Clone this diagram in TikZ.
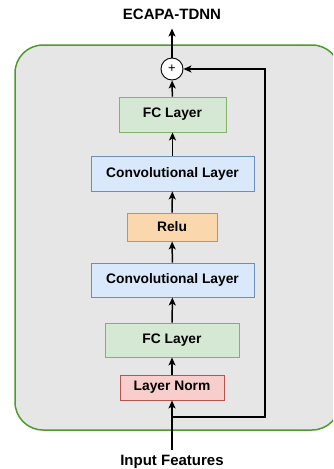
\documentclass[tikz,border=0pt]{standalone}
\usepackage{fontspec}
\setmainfont{Liberation Sans}
\usetikzlibrary{arrows.meta}
\definecolor{gfill}{HTML}{D5E8D4}\definecolor{gdraw}{HTML}{82B366}
\definecolor{bfill}{HTML}{DAE8FC}\definecolor{bdraw}{HTML}{6C8EBF}
\definecolor{ofill}{HTML}{FAD7AC}\definecolor{odraw}{HTML}{D79B00}
\definecolor{rfill}{HTML}{F8CECC}\definecolor{rdraw}{HTML}{B85450}
\definecolor{outfill}{HTML}{E6E6E6}\definecolor{outdraw}{HTML}{4E9A2A}
\begin{document}
\begin{tikzpicture}[x=1pt,y=-1pt,
  box/.style={draw, line width=0.9pt, inner sep=0pt, font=\fontsize{13.8}{16}\selectfont\bfseries},
  arr/.style={-{Stealth[length=8pt,width=7pt,inset=2pt]}, line width=1.5pt},
  lbl/.style={inner sep=0pt, font=\fontsize{15}{18}\selectfont\bfseries}]
\useasboundingbox (0,0) rectangle (333,469);
\clip (0,0) rectangle (333,469);
\filldraw[fill=outfill, draw=outdraw, line width=1.5pt, rounded corners=28pt] (15,45) rectangle (340,430);
\node[lbl] (title) at (172,14) {ECAPA-TDNN};
\node[lbl] (input) at (172,462) {Input Features};
\node[circle, draw, fill=white, line width=0.9pt, minimum size=22pt, inner sep=0pt, font=\fontsize{13}{14}\selectfont] (plus) at (172,69) {+};
\node[box, fill=gfill, draw=gdraw, minimum width=107pt, minimum height=35pt] (fc1) at (172.5,114.5) {FC Layer};
\node[box, fill=bfill, draw=bdraw, minimum width=163pt, minimum height=35pt] (conv1) at (172.5,173.5) {Convolutional Layer};
\node[box, fill=ofill, draw=odraw, minimum width=90pt, minimum height=28pt] (relu) at (172,227) {Relu};
\node[box, fill=bfill, draw=bdraw, minimum width=163pt, minimum height=34pt] (conv2) at (172.5,280) {Convolutional Layer};
\node[box, fill=gfill, draw=gdraw, minimum width=134pt, minimum height=34pt] (fc2) at (172,340) {FC Layer};
\node[box, fill=rfill, draw=rdraw, minimum width=104pt, minimum height=25pt] (ln) at (172,387.5) {Layer Norm};
\coordinate (inbot) at (172,450);
\coordinate (br) at (172,417);
\coordinate (skip) at (265,69);
\draw[arr] (inbot) -- (ln);
\draw[arr] (ln) -- (fc2);
\draw[arr] (fc2) -- (conv2);
\draw[arr] (conv2) -- (relu);
\draw[arr] (relu) -- (conv1);
\draw[arr] (conv1) -- (fc1);
\draw[arr] (fc1) -- (plus);
\draw[arr, shorten >=9pt] (plus) -- (title);
\draw[arr] (br) -| (skip) -- (plus);
\end{tikzpicture}
\end{document}
